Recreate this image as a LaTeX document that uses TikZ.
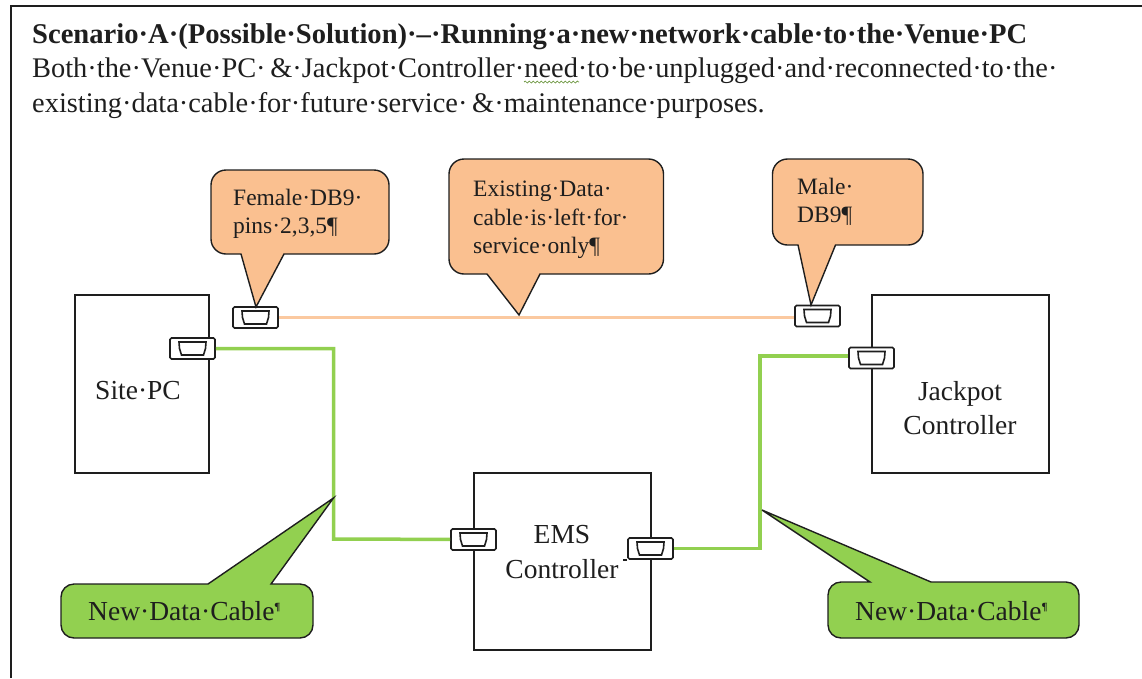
\documentclass[tikz,border=0pt]{standalone}
\usepackage{fontspec}
\setmainfont{Liberation Serif}
\usetikzlibrary{decorations.pathmorphing}
\definecolor{bubbleorange}{HTML}{FAC090}
\definecolor{cableorange}{HTML}{FBC9A0}
\definecolor{cablegreen}{HTML}{92D050}
\definecolor{inkdark}{HTML}{1E1E1E}
\begin{document}
\begin{tikzpicture}[
		x=1pt, y=-1pt,
		every node/.style={text=inkdark, inner sep=0pt},
		box/.style={draw=inkdark, line width=1.5pt, fill=white, anchor=north west},
		port/.style={draw=inkdark, line width=1.6pt, fill=white, rounded corners=1.5pt, minimum width=45pt, minimum height=21pt},
		bubble/.style={draw=inkdark, line width=1.4pt},
		txt/.style={anchor=base west, font=\fontsize{28.4}{30}\selectfont},
		small/.style={anchor=north west, align=left, font=\fontsize{23.5}{28.3}\selectfont},
		boxtxt/.style={align=center, font=\fontsize{27.5}{34.5}\selectfont},
		newtxt/.style={anchor=base west, font=\fontsize{27.5}{30}\selectfont},
		oldcable/.style={cableorange, line width=3.5pt},
		newcable/.style={cablegreen, line width=3.5pt}
	]
	\useasboundingbox (0,0) rectangle (1142,678);
	\draw[inkdark, line width=1.5pt] (11,678) -- (11,6) -- (1142,6);

	% heading
	\node[txt, font=\bfseries\fontsize{28.6}{30}\selectfont] (heading) at (32,43) {Scenario·A·(Possible·Solution)·–·Running·a·new·network·cable·to·the·Venue·PC};
	\node[txt] (lineone) at (32,77) {Both·the·Venue·PC·\,\&·Jackpot·Controller·need·to·be·unplugged·and·reconnected·to·the·};
	\node[txt] (linetwo) at (32,112) {existing·data·cable·for·future·service·\,\&·maintenance·purposes.};
	\draw[cablegreen!70!black, line width=0.7pt, decorate, decoration={snake, amplitude=1pt, segment length=4pt}] (524,82) -- (579,82);

	% boxes
	\node[box, minimum width=134pt, minimum height=178pt] (sitepc) at (74,294) {};
	\node[box, minimum width=177pt, minimum height=178pt] (jackpot) at (871,294) {};
	\node[box, minimum width=177pt, minimum height=177pt] (ems) at (473,472) {};
	\node[boxtxt] (sitetxt) at (138,391) {Site·PC};
	\node[boxtxt] (jacktxt) at (960,408) {Jackpot\\Controller};
	\node[boxtxt] (emstxt) at (562,552) {EMS\\Controller};

	% ports
	\node[port] (portfemale) at (255.5,317.5) {};
	\node[port] (portmale) at (817.5,316) {};
	\node[port] (portsite) at (192.5,348.5) {};
	\node[port] (portjack) at (871.5,358) {};
	\node[port] (portemsl) at (473.5,539.5) {};
	\node[port] (portemsr) at (650.5,548.5) {};
	\foreach \p in {portfemale,portmale,portsite,portjack,portemsl,portemsr} {
		\draw[inkdark, line width=1.6pt] ([shift={(-13.5,-6.5)}]\p.center) -- ([shift={(13.5,-6.5)}]\p.center) -- ([shift={(13,0)}]\p.center) -- ([shift={(11,6.5)}]\p.center) -- ([shift={(-11,6.5)}]\p.center) -- ([shift={(-13,0)}]\p.center) -- cycle;
	}
	\draw[inkdark, line width=1.5pt] (portemsr.south west) -- ++(-4,0);

	% cables
	\draw[oldcable] (portfemale.east) -- (portfemale.east -| portmale.west);
	\draw[newcable] (portsite) -| (333.5,539) -- (portemsl);
	\draw[newcable] (portemsr) -| (760,356) -- (portjack.west |- 0,356);

	% callouts
	\draw[bubble, fill=bubbleorange] (256,307) [sharp corners] -- (241,254) [rounded corners=15pt] -- (211,254) -- (211,170) -- (389,170) -- (389,254) [sharp corners] -- (284,254) -- cycle;
	\draw[bubble, fill=bubbleorange] (519,315) [sharp corners] -- (487,274) [rounded corners=15pt] -- (449,274) -- (449,159) -- (663.5,159) -- (663.5,274) [sharp corners] -- (540,274) -- cycle;
	\draw[bubble, fill=bubbleorange] (811,305) [sharp corners] -- (798,245) [rounded corners=15pt] -- (772.5,245) -- (772.5,159) -- (923,159) -- (923,245) [sharp corners] -- (835.5,245) -- cycle;
	\draw[bubble, fill=cablegreen] (333.5,498) [sharp corners] -- (208,584) [rounded corners=13pt] -- (61,584) -- (61,638) -- (313,638) -- (313,584) [sharp corners] -- (271,584) -- cycle;
	\draw[bubble, fill=cablegreen] (762,510) [sharp corners] -- (870,582) [rounded corners=13pt] -- (828,582) -- (828,638) -- (1079,638) -- (1079,582) [sharp corners] -- (931,582) -- cycle;

	\node[small] (femaletxt) at (233,189) {Female·DB9·\\pins·2,3,5¶};
	\node[small] (existtxt) at (473,181) {Existing·Data·\\cable·is·left·for·\\service·only¶};
	\node[small] (maletxt) at (797,178) {Male·\\DB9¶};
	\node[newtxt] (newleft) at (88,620) {New·Data·Cable\raisebox{10pt}{\bfseries\fontsize{11}{11}\selectfont ¶}};
	\node[newtxt] (newright) at (855,620) {New·Data·Cable\raisebox{10pt}{\bfseries\fontsize{11}{11}\selectfont ¶}};
\end{tikzpicture}
\end{document}
